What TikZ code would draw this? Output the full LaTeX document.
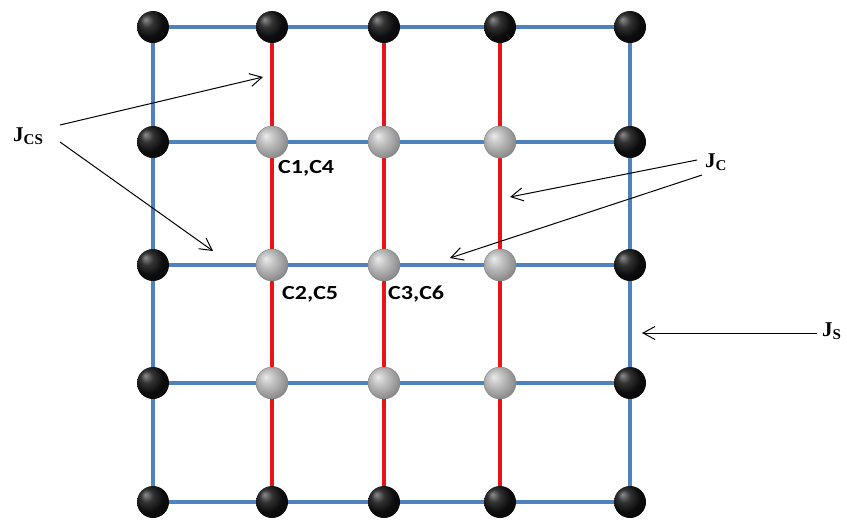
\documentclass[tikz,border=0pt]{standalone}
\usepackage{fontspec}
\setmainfont{Liberation Serif}
\newfontfamily\lblfont{Carlito}
\usetikzlibrary{arrows.meta}
\definecolor{gridblue}{RGB}{79,129,189}
\definecolor{gridred}{RGB}{235,20,20}
\pgfdeclareradialshading{darkball}{\pgfqpoint{-12bp}{12bp}}{color(0bp)=(black!45); color(10bp)=(black!80); color(22bp)=(black!95); color(50bp)=(black)}
\pgfdeclareradialshading{lightball}{\pgfqpoint{-10bp}{10bp}}{color(0bp)=(black!8); color(12bp)=(black!25); color(28bp)=(black!45); color(50bp)=(black!60)}
\newcommand\jsub[1]{\raisebox{-3.5pt}{\fontsize{15}{15}\selectfont #1}}
\newcommand\wide[1]{\scalebox{1.2}[1]{#1}}
\begin{document}
\begin{tikzpicture}[x=1pt,y=-1pt,
  blueline/.style={gridblue,line width=4pt},
  redline/.style={gridred,line width=4pt},
  blackball/.style={circle,minimum size=32pt,inner sep=0pt,shading=darkball},
  grayball/.style={circle,minimum size=32pt,inner sep=0pt,shading=lightball,draw=black!50,line width=0.4pt},
  clabel/.style={font=\lblfont\bfseries\fontsize{20}{20}\selectfont,inner sep=0pt,anchor=base west},
  jlabel/.style={font=\bfseries\fontsize{21}{21}\selectfont,inner sep=0pt,anchor=base west},
  pointer/.style={-{Straight Barb[length=12pt,width=13pt]},line width=1pt,black}]
\useasboundingbox (0,0) rectangle (847,523);
\foreach \x [count=\i] in {153,272,384,500,630}
  \foreach \y [count=\j] in {27,142,265,383,502}
    \coordinate (p-\i-\j) at (\x,\y);
% grid lines
\foreach \j in {1,...,5} \draw[blueline] (p-1-\j) -- (p-5-\j);
\foreach \i in {1,5} \draw[blueline] (p-\i-1) -- (p-\i-5);
\foreach \i in {2,3,4} \draw[redline] (p-\i-1) -- (p-\i-5);
% balls
\foreach \i in {1,...,5} \foreach \j in {1,5} \node[blackball] (b-\i-\j) at (p-\i-\j) {};
\foreach \i in {1,5} \foreach \j in {2,3,4} \node[blackball] (b-\i-\j) at (p-\i-\j) {};
\foreach \i in {2,3,4} \foreach \j in {2,3,4} \node[grayball] (b-\i-\j) at (p-\i-\j) {};
% C labels
\node[clabel] (c14) at (278,173) {\wide{C1,C4}};
\node[clabel] (c25) at (282,299) {\wide{C2,C5}};
\node[clabel] (c36) at (388,299) {\wide{C3,C6}};
% J labels
\node[jlabel] (jcs) at (13,141) {J\jsub{CS}};
\node[jlabel] (jc) at (705,167) {J\jsub{C}};
\node[jlabel] (js) at (822,336) {J\jsub{S}};
% arrow targets
\coordinate (tcs1) at (263,77);
\coordinate (tcs2) at (213,251);
\coordinate (tc1) at (510,197);
\coordinate (tc2) at (450,258);
\coordinate (ts) at (642,333);
\draw[pointer] ([shift={(47,-16)}]jcs.base west) -- (tcs1);
\draw[pointer] ([shift={(47,1)}]jcs.base west) -- (tcs2);
\draw[pointer] ([shift={(-8,-7)}]jc.base west) -- (tc1);
\draw[pointer] ([shift={(-3,8)}]jc.base west) -- (tc2);
\draw[pointer] ([shift={(-5,-3)}]js.base west) -- (ts);
\end{tikzpicture}
\end{document}
